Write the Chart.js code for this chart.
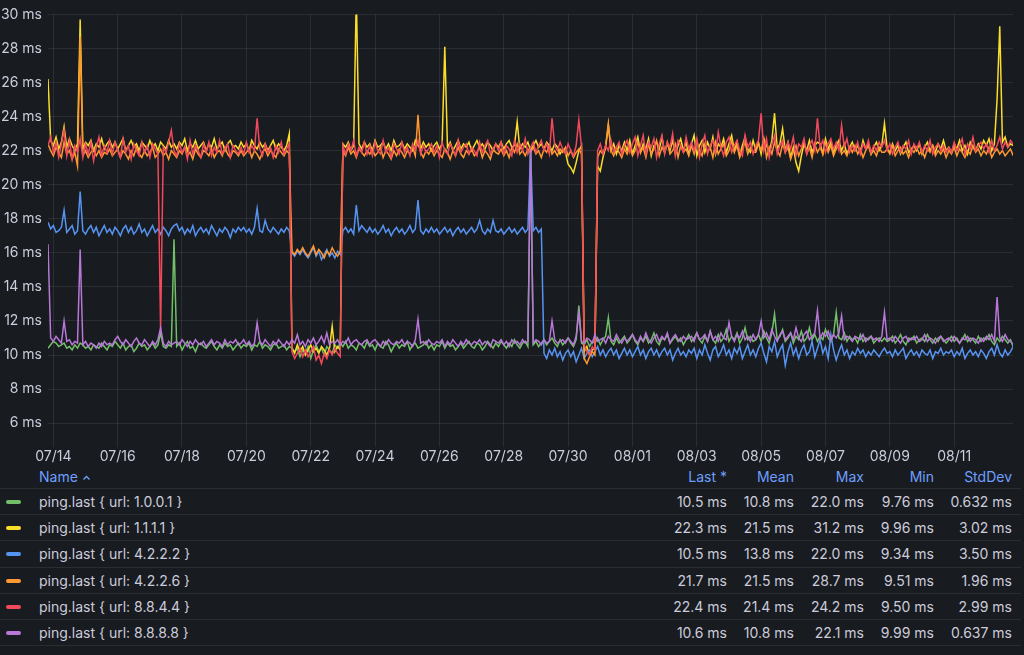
<!DOCTYPE html>
<html>
<head>
<meta charset="utf-8">
<script src="https://cdn.jsdelivr.net/npm/chart.js@4.4.0/dist/chart.umd.min.js"></script>
<style>
  html, body { margin: 0; padding: 0; background: #181b1f; }
  body { width: 1024px; height: 655px; overflow: hidden; font-family: Inter, sans-serif; color: #ccccdc; }
  #wrap { position: relative; width: 1024px; height: 465px; }
  #legend { position: relative; width: 1021px; font-size: 14px; }
  .row { position: relative; height: 25.1px; line-height: 25px; border-bottom: 1px solid rgba(204, 204, 220, 0.1); }
  .head { height: 23.3px; line-height: 23px; color: #6e9fff; }
  .cell { position: absolute; top: 0; white-space: nowrap; }
  .name { position: absolute; left: 39px; top: 0; white-space: nowrap; }
  .swatch { position: absolute; left: 6px; top: 11px; width: 15px; height: 4px; border-radius: 2px; }
  .caret { display: inline-block; margin-left: 4px; vertical-align: middle; }
</style>
</head>
<body>
<div id="wrap"><canvas id="myChart"></canvas></div>
<div id="legend"></div>
<script>
// one sample every 2 hours, days counted from 07/14 00:00
var startDay = -0.165;
var stepDays = 2 / 24;

var seriesNames = ['ping.last { url: 1.0.0.1 }', 'ping.last { url: 1.1.1.1 }', 'ping.last { url: 4.2.2.2 }',
  'ping.last { url: 4.2.2.6 }', 'ping.last { url: 8.8.4.4 }', 'ping.last { url: 8.8.8.8 }'];
var seriesColors = ['#73bf69', '#fade2a', '#5794f2', '#ff9830', '#f2495c', '#b877d9'];

var ping1001 = [
  10.4,10.6,10.8,10.7,10.5,10.6,10.7,10.4,10.5,10.3,10.6,10.4,
  10.7,10.6,10.4,10.5,10.3,10.6,10.5,10.4,10.7,10.5,10.3,10.6,
  10.5,10.8,10.6,10.4,10.7,10.3,10.5,10.6,10.2,10.4,10.7,10.5,
  10.6,10.3,10.5,10.7,10.4,10.6,11.3,10.5,10.4,10.6,10.5,16.8,
  10.5,10.7,10.3,10.6,10.8,10.4,10.5,10.2,10.6,10.7,10.5,10.4,
  10.6,10.8,10.5,10.3,10.6,10.4,10.7,10.5,10.6,10.3,10.5,10.7,
  10.4,10.6,10.5,10.7,10.3,10.6,10.5,10.8,10.4,10.6,10.5,10.3,
  10.6,10.7,10.4,10.5,10.6,10.3,10.5,10.4,10.2,10.4,9.9,10.3,
  10.1,10.5,9.8,10.3,10.6,10.2,10.4,10.0,10.5,10.3,10.1,10.6,
  10.4,10.7,10.5,10.8,10.4,10.6,10.5,10.3,10.7,10.6,10.4,10.8,
  10.5,10.6,10.3,10.7,10.5,10.4,10.8,10.6,10.2,10.5,10.7,10.4,
  10.6,10.5,10.8,10.3,10.6,10.7,10.4,10.5,10.6,10.8,10.4,10.6,
  10.3,10.6,10.5,10.8,10.4,10.7,10.5,10.6,10.3,10.5,10.7,10.4,
  10.6,10.8,10.5,10.4,10.7,10.6,10.3,10.5,10.8,10.6,10.4,10.7,
  10.5,10.8,10.6,10.4,10.7,10.5,10.9,10.6,10.4,10.7,10.8,10.5,
  22.0,10.6,10.8,10.5,10.7,10.9,10.6,10.8,11.0,10.7,10.5,10.9,
  10.6,10.8,11.0,10.7,10.5,10.9,12.9,10.7,10.6,10.9,10.5,10.8,
  10.7,11.0,10.6,10.9,11.1,12.2,10.8,10.6,11.0,10.7,10.9,11.1,
  10.7,10.9,11.2,10.8,10.6,11.0,10.8,11.1,10.7,10.9,11.3,10.8,
  10.6,11.0,10.9,11.2,10.7,10.9,11.1,10.8,11.0,10.6,10.9,11.2,
  10.8,11.0,11.3,10.9,10.7,11.1,10.8,11.4,10.9,10.7,11.2,10.8,
  11.0,11.5,10.8,11.1,10.9,11.3,10.7,11.0,11.6,10.9,11.1,10.8,
  10.9,11.2,10.8,11.4,11.0,10.7,11.3,12.4,10.9,11.1,11.5,10.8,
  11.0,11.3,10.7,11.1,10.9,11.4,10.8,11.0,11.6,10.9,11.2,10.8,
  11.1,10.9,11.5,11.0,10.8,11.2,12.5,11.0,10.9,11.3,10.8,11.1,
  10.9,11.0,10.7,11.2,10.8,11.0,10.9,11.1,10.7,10.9,11.0,10.8,
  11.0,10.8,10.9,11.1,10.7,10.9,11.2,10.8,10.6,11.0,10.9,11.1,
  10.7,10.9,11.0,10.8,11.2,10.9,10.7,11.0,10.8,11.1,10.9,10.7,
  10.9,11.1,10.8,11.0,10.7,10.9,11.2,10.8,11.0,10.9,10.7,11.1,
  10.8,11.0,10.9,11.2,10.8,10.6,11.0,10.8,11.1,10.9,10.7,10.9,
  10.5
];
var ping1111 = [
  26.2,22.6,22.3,22.8,22.1,22.5,23.4,22.2,22.7,22.3,22.0,22.4,
  29.7,22.1,22.5,22.3,22.6,22.0,22.4,22.2,22.7,22.1,22.4,22.6,
  22.2,22.5,22.1,22.4,22.7,22.0,22.3,22.6,22.2,22.4,22.0,22.5,
  22.3,22.1,22.6,22.2,22.4,22.0,22.5,22.3,22.1,22.6,22.2,22.4,
  22.1,22.5,22.3,22.7,22.0,22.4,22.2,22.6,22.1,22.3,22.5,22.0,
  22.4,22.2,22.7,22.1,22.3,22.5,22.0,22.4,22.6,22.2,22.3,22.1,
  22.5,22.2,22.4,22.0,22.6,22.3,22.1,22.5,22.2,22.4,22.0,22.3,
  22.6,22.1,22.4,22.2,22.0,22.3,23.0,10.4,10.1,10.6,10.2,10.5,
  10.0,10.3,10.6,10.2,10.4,10.1,10.5,10.3,10.0,10.4,11.7,10.2,
  10.5,10.3,22.4,22.2,22.5,22.0,22.3,31.2,22.4,22.1,22.5,22.2,
  22.4,22.0,22.6,22.2,22.3,22.5,22.1,22.4,22.0,22.6,22.2,22.3,
  22.5,22.1,22.4,22.2,22.0,22.6,22.3,22.1,22.5,22.2,22.4,22.0,
  22.3,22.5,22.1,22.4,28.1,22.2,22.5,22.0,22.3,22.6,22.1,22.4,
  22.2,22.5,22.0,22.3,22.6,22.2,22.4,22.1,22.5,22.3,22.0,22.4,
  22.2,22.5,22.1,22.4,22.6,22.2,22.3,23.7,22.1,22.4,22.2,22.5,
  22.0,22.3,22.6,22.2,22.4,22.1,22.5,22.3,22.0,22.4,22.2,21.8,
  22.1,21.9,21.2,21.0,20.7,21.3,22.0,22.3,10.2,10.5,10.0,10.3,
  10.4,21.1,20.8,21.6,22.2,23.5,22.0,22.4,21.8,22.3,22.0,22.5,
  22.0,22.6,21.8,22.3,22.8,21.9,22.4,22.1,22.7,21.7,22.3,22.5,
  22.1,22.8,21.9,22.4,22.0,22.6,21.8,22.3,22.7,22.0,22.5,21.8,
  22.4,22.9,21.7,22.3,22.6,21.9,22.5,22.1,22.8,21.8,22.4,22.2,
  22.7,21.9,22.4,22.9,22.0,22.5,21.7,22.3,22.8,22.1,21.9,22.6,
  22.0,22.5,21.8,22.7,22.3,21.9,22.6,24.2,22.1,22.4,23.3,22.0,
  22.5,21.6,22.2,21.3,20.8,21.7,22.4,22.0,22.6,21.9,22.3,22.5,
  22.4,21.8,22.7,22.1,22.5,21.9,22.3,22.6,22.0,22.4,21.8,22.2,
  22.5,22.0,22.3,21.9,22.6,22.1,22.4,21.8,22.2,22.5,22.0,22.3,
  23.6,22.1,21.9,22.4,22.0,22.3,21.8,22.2,22.5,21.9,22.1,22.3,
  22.0,22.4,21.8,22.2,22.5,22.0,22.3,21.9,22.4,22.1,22.6,22.0,
  22.2,21.9,22.4,22.1,22.6,22.0,22.3,21.8,22.5,22.2,22.0,22.4,
  22.1,22.6,22.3,22.7,22.0,22.4,25.0,29.3,22.5,22.8,22.2,22.4,
  22.3
];
var ping4222 = [
  17.8,17.4,17.6,17.2,17.3,17.5,18.5,17.2,17.4,17.6,17.1,17.3,
  19.6,17.3,17.1,17.4,17.6,17.2,17.5,17.0,17.3,17.6,17.2,17.4,
  17.1,17.5,17.3,17.0,17.4,17.6,17.2,17.5,17.1,17.3,17.7,17.2,
  17.4,17.0,17.3,17.6,17.2,17.4,17.1,17.5,17.3,17.0,17.4,17.6,
  17.7,17.3,17.5,17.1,17.4,17.2,17.6,17.0,17.3,17.5,17.2,17.4,
  17.1,17.6,17.3,17.0,17.4,17.2,17.5,17.3,16.9,17.4,17.2,17.5,
  17.3,17.5,17.2,17.4,17.1,17.5,18.6,17.3,17.2,17.9,17.4,17.2,
  17.5,17.3,17.1,17.4,17.2,17.5,17.3,16.0,15.8,16.1,15.9,16.2,
  15.9,15.7,16.0,16.3,15.8,16.1,15.6,15.9,16.2,15.8,16.0,15.7,
  16.1,15.9,17.3,17.5,17.2,17.4,17.1,18.8,17.3,17.6,17.4,17.2,
  17.5,17.2,17.4,17.1,17.3,17.6,17.2,17.4,17.0,17.3,17.5,17.2,
  17.4,17.1,17.3,17.6,17.2,17.4,19.1,17.3,17.1,17.4,17.2,17.5,
  17.2,17.4,17.1,17.3,17.5,17.2,17.4,17.0,17.3,17.5,17.2,17.4,
  17.1,17.3,17.5,17.2,17.4,17.9,17.3,17.1,17.4,17.2,17.9,17.3,
  17.2,17.4,17.1,17.3,17.5,17.2,17.4,17.1,17.3,17.5,17.2,17.4,
  22.0,17.3,17.5,17.2,17.4,10.1,9.8,10.3,10.0,10.4,9.9,10.2,
  9.7,10.1,10.3,9.9,10.2,9.6,10.0,10.4,9.8,10.1,10.3,9.9,
  10.2,10.5,10.0,10.3,9.9,10.2,10.4,10.0,10.3,9.8,10.1,10.4,
  10.0,10.3,9.9,10.2,10.5,10.0,10.3,9.8,10.2,10.4,10.0,10.3,
  9.9,10.2,10.4,10.0,10.3,9.7,10.1,10.4,10.0,10.2,9.9,10.3,
  10.1,10.4,9.8,10.3,10.0,10.6,10.1,9.7,10.3,10.5,9.9,10.2,
  10.6,10.0,10.3,9.8,10.4,10.1,10.5,9.8,10.2,10.6,10.0,10.3,
  9.9,10.4,10.7,10.1,9.6,10.5,10.2,10.8,9.9,10.3,10.6,9.4,
  10.2,10.7,10.0,10.4,9.8,10.3,10.6,10.0,10.2,10.8,9.9,10.4,
  10.9,10.1,10.5,9.8,11.2,10.3,9.7,10.2,10.6,10.0,10.3,9.8,
  10.2,10.0,10.4,10.1,10.3,9.9,10.2,10.0,10.3,10.1,9.9,10.2,
  10.4,10.1,10.2,9.9,10.3,10.0,10.2,10.4,9.8,10.1,10.3,10.0,
  10.2,9.9,10.3,10.1,10.0,10.3,9.8,10.2,10.1,10.4,10.0,10.2,
  10.1,10.3,9.9,10.2,10.0,10.4,9.8,10.1,10.3,10.0,10.2,9.9,
  10.3,10.1,9.8,10.2,10.4,10.0,10.6,10.1,9.9,10.3,10.0,10.2,
  10.5
];
var ping4226 = [
  22.4,22.0,21.7,22.2,21.9,21.6,22.5,21.8,22.0,21.5,21.9,21.1,
  28.7,21.7,22.0,21.6,21.9,22.1,21.7,22.0,21.6,21.9,21.8,22.1,
  21.7,21.9,22.1,21.6,22.0,21.8,21.5,22.0,21.7,22.2,21.8,21.6,
  22.0,21.7,21.9,22.2,21.6,21.8,22.1,21.7,21.9,21.5,22.0,21.8,
  21.6,22.0,21.8,22.2,21.7,21.9,21.5,22.1,21.8,21.6,22.0,21.9,
  21.7,22.1,21.6,21.9,22.0,21.7,22.2,21.8,21.6,22.0,21.9,21.7,
  22.0,21.7,21.9,22.1,21.6,22.0,21.8,21.5,21.9,22.1,21.7,22.0,
  21.8,21.6,22.1,21.9,21.7,22.0,21.8,16.1,15.9,16.2,16.0,16.3,
  16.0,15.8,16.1,16.4,15.9,16.2,16.0,15.7,16.1,15.9,16.3,16.0,
  15.8,16.1,22.0,21.7,22.2,21.8,22.0,21.6,22.1,21.9,21.7,22.0,
  21.8,22.1,21.7,21.9,22.2,21.6,22.0,21.8,21.5,22.0,21.7,22.1,
  21.9,21.6,22.0,21.8,22.2,21.7,24.1,21.9,21.6,22.0,21.8,22.1,
  21.7,22.0,21.8,21.6,22.1,21.9,21.5,22.0,21.7,22.2,21.8,21.6,
  22.0,21.8,22.1,21.7,21.9,22.2,21.6,22.0,21.8,21.5,22.1,21.9,
  21.8,22.1,21.7,22.0,21.6,22.2,21.9,22.4,21.8,22.0,21.7,22.1,
  21.9,22.2,21.8,22.0,21.6,22.1,21.9,22.3,21.8,22.0,21.7,22.1,
  21.9,22.2,21.7,22.0,21.6,21.9,22.1,21.8,9.8,9.5,9.9,10.2,
  10.0,21.6,22.0,21.8,22.3,23.6,22.0,21.7,22.2,21.9,21.6,22.1,
  21.8,22.3,21.7,22.0,22.5,21.9,22.2,21.6,22.4,21.8,22.1,22.6,
  21.7,22.2,21.9,22.5,21.8,22.0,22.4,21.6,22.3,21.9,22.1,21.7,
  22.3,21.8,22.6,22.0,21.7,22.4,21.9,22.2,21.6,22.5,21.8,22.1,
  22.4,21.7,22.0,22.6,21.9,22.3,21.6,22.1,22.5,21.8,22.2,21.9,
  21.9,22.4,22.0,22.7,21.6,22.2,21.8,22.5,22.0,21.7,22.4,21.9,
  22.2,21.5,22.0,22.3,21.7,22.1,22.5,21.8,22.2,21.6,22.4,21.9,
  22.2,21.8,22.5,21.9,22.3,21.7,22.1,22.4,21.8,22.0,21.7,22.2,
  21.9,22.3,21.8,22.1,21.6,22.0,22.3,21.8,22.0,21.7,22.2,21.9,
  21.9,22.1,21.8,22.3,21.7,22.0,22.2,21.8,22.0,21.6,22.1,21.9,
  22.2,21.8,22.0,21.6,22.1,21.9,22.3,21.7,22.0,21.8,22.1,21.6,
  22.0,21.8,22.2,21.7,22.1,21.9,21.6,22.0,21.8,22.3,21.9,22.1,
  21.7,22.0,21.8,22.2,21.6,21.9,22.1,21.8,22.0,21.7,21.9,22.1,
  21.7
];
var ping8844 = [
  22.3,22.8,21.9,22.5,21.6,22.4,23.2,21.7,22.6,21.5,22.3,21.9,
  22.7,21.6,22.4,21.8,22.5,21.4,22.2,22.8,21.7,22.3,21.9,22.6,
  21.8,22.5,22.0,21.6,22.7,21.9,22.3,21.5,22.4,22.0,21.7,22.5,
  21.9,22.3,21.6,22.4,22.1,21.8,11.5,22.2,21.9,22.5,23.2,22.0,
  21.7,22.4,21.9,22.2,21.5,22.6,21.8,22.3,22.0,21.6,22.4,21.9,
  22.5,21.7,22.2,21.9,22.6,21.8,22.1,22.4,21.6,22.3,22.0,21.8,
  22.2,21.8,22.5,21.9,22.3,22.0,23.9,22.1,21.7,22.4,21.9,22.2,
  21.6,22.3,21.9,22.5,21.8,22.1,22.4,10.2,9.8,10.1,10.4,9.9,
  10.3,9.9,10.2,10.5,9.7,10.0,9.5,10.1,9.8,10.3,10.0,10.4,
  10.1,9.9,22.3,21.8,22.4,22.0,22.6,21.7,22.2,21.9,22.5,21.8,
  22.3,21.7,22.5,22.0,21.8,22.6,21.9,22.2,21.6,22.4,22.1,21.8,
  22.5,21.9,22.2,21.7,22.4,22.0,22.6,21.8,22.3,21.9,22.1,22.4,
  21.9,22.3,21.6,22.5,22.0,21.8,22.4,22.1,21.7,22.6,21.9,22.2,
  22.4,21.8,22.2,22.0,21.7,22.5,21.9,22.3,22.6,21.8,22.1,22.4,
  22.0,22.5,21.8,22.3,22.1,21.7,22.6,21.9,22.4,22.0,22.7,21.8,
  22.2,22.5,21.9,22.3,22.6,22.0,22.4,21.8,23.9,22.3,22.0,22.5,
  22.1,21.8,22.4,22.0,21.7,22.3,23.8,22.2,10.6,10.2,10.0,10.5,
  10.3,22.0,22.4,21.8,22.3,22.0,22.6,21.9,22.2,22.5,21.8,22.3,
  22.6,21.9,22.4,22.8,21.7,22.3,22.9,21.8,22.5,22.2,22.7,21.6,
  22.4,22.9,21.8,22.5,22.2,23.0,21.7,22.6,22.3,21.9,22.8,22.1,
  22.5,22.0,22.7,21.6,22.4,22.9,21.8,22.3,22.6,21.9,23.1,22.2,
  21.7,22.5,22.8,21.9,22.3,22.6,22.0,21.7,22.9,22.2,22.5,21.8,
  22.3,22.6,24.2,22.0,22.7,21.6,22.4,22.9,21.8,22.3,22.6,21.9,
  22.5,22.1,22.8,21.7,22.4,22.2,22.7,21.8,22.3,22.6,22.0,23.9,
  22.2,22.6,21.9,22.4,22.7,22.1,22.5,22.0,23.5,22.2,22.7,21.9,
  22.3,22.0,22.5,21.8,22.4,22.1,22.6,21.9,22.3,22.0,22.5,22.2,
  22.6,22.0,22.4,21.8,22.2,22.5,21.9,22.3,22.1,22.6,21.8,22.4,
  22.1,22.5,21.9,22.3,22.0,22.6,21.8,22.2,22.4,22.0,22.3,21.9,
  22.2,21.9,22.5,22.0,22.3,22.7,21.8,22.4,22.1,22.8,22.0,22.3,
  22.5,22.1,22.4,21.9,22.6,22.0,22.3,22.8,22.1,22.5,22.2,22.6,
  22.4
];
var ping8888 = [
  16.5,11.0,10.8,11.1,10.9,10.7,12.0,10.8,10.9,10.6,10.8,10.7,
  16.2,10.6,10.8,10.5,10.7,10.6,10.4,10.7,10.5,10.8,10.6,10.7,
  10.6,10.9,11.1,10.8,10.6,10.9,10.7,10.5,10.8,11.0,10.7,10.6,
  10.9,10.7,10.5,10.8,10.6,10.9,11.6,10.7,10.5,10.8,10.6,10.7,
  10.8,10.6,10.9,10.7,10.5,10.8,10.6,10.9,10.7,10.6,10.8,10.5,
  10.7,10.9,10.6,10.8,10.7,10.5,10.9,10.6,10.8,10.7,10.9,10.6,
  10.7,10.9,10.6,10.8,10.5,10.7,11.9,10.8,10.6,10.9,10.7,10.5,
  10.8,10.6,10.9,10.7,10.5,10.8,10.6,10.9,10.7,11.2,10.6,10.8,
  10.5,10.9,10.7,11.0,10.6,10.8,11.1,10.7,11.3,10.6,10.8,10.7,
  10.9,10.6,10.8,10.7,11.0,10.6,10.8,10.9,10.7,10.6,10.8,10.9,
  10.6,10.8,10.9,10.7,10.5,10.8,10.6,10.9,10.7,10.6,10.8,10.7,
  10.9,10.6,10.8,10.7,10.5,10.9,12.1,10.7,10.8,10.6,10.9,10.7,
  10.6,10.8,10.7,10.9,10.5,10.8,10.6,10.9,10.7,10.5,10.8,10.6,
  10.9,10.7,10.6,10.8,10.7,10.9,10.6,10.8,10.7,10.5,10.9,10.8,
  10.7,10.9,10.6,10.8,10.5,10.9,10.7,10.8,10.6,10.9,10.7,10.8,
  22.1,10.7,10.9,10.8,10.6,10.9,10.7,10.8,12.0,10.9,10.7,10.8,
  10.9,10.7,11.0,10.8,10.6,11.1,12.5,10.8,10.7,11.0,10.9,10.7,
  11.2,10.8,10.9,11.0,10.7,11.1,10.9,10.8,11.2,10.9,10.7,11.0,
  10.8,11.0,11.2,10.9,10.7,11.1,10.8,11.3,10.9,10.7,11.0,11.2,
  10.8,11.1,10.9,11.3,10.7,11.0,11.2,10.9,10.8,11.1,10.9,11.0,
  11.1,10.8,11.3,10.9,11.0,11.2,10.8,11.4,10.9,11.1,10.8,11.3,
  11.0,10.9,11.9,11.1,10.8,11.2,11.0,11.4,10.9,11.1,10.8,11.2,
  10.9,11.2,12.0,11.0,11.3,10.9,11.5,11.1,10.8,11.2,11.4,10.9,
  11.1,11.3,10.9,11.6,11.0,10.8,11.2,11.4,10.9,11.1,11.3,12.6,
  11.0,11.3,11.1,11.4,10.9,11.2,11.0,11.3,12.3,10.9,11.1,11.0,
  10.8,11.1,11.0,10.9,11.2,10.8,11.0,11.1,10.9,11.0,10.8,11.1,
  12.5,10.9,11.0,10.8,11.1,10.9,10.7,11.0,11.1,10.8,11.0,10.9,
  11.1,10.8,10.9,11.2,10.8,11.0,10.9,10.7,11.0,11.1,10.8,10.9,
  11.0,10.8,11.1,10.9,10.7,11.0,10.9,11.1,10.8,11.0,10.9,10.7,
  11.0,10.8,11.1,10.9,11.2,10.8,13.4,11.0,10.8,11.2,10.9,10.8,
  10.6
];

// legend table values
var lastVals = ['10.5 ms', '22.3 ms', '10.5 ms', '21.7 ms', '22.4 ms', '10.6 ms'];
var meanVals = ['10.8 ms', '21.5 ms', '13.8 ms', '21.5 ms', '21.4 ms', '10.8 ms'];
var maxVals = ['22.0 ms', '31.2 ms', '22.0 ms', '28.7 ms', '24.2 ms', '22.1 ms'];
var minVals = ['9.76 ms', '9.96 ms', '9.34 ms', '9.51 ms', '9.50 ms', '9.99 ms'];
var stdVals = ['0.632 ms', '3.02 ms', '3.50 ms', '1.96 ms', '2.99 ms', '0.637 ms'];

var xTickDays = [0, 2, 4, 6, 8, 10, 12, 14, 16, 18, 20, 22, 24, 26, 28];
var yTicks = [6, 8, 10, 12, 14, 16, 18, 20, 22, 24, 26, 28, 30];

var seriesData = [ping1001, ping1111, ping4222, ping4226, ping8844, ping8888];
var times = ping1001.map(function(_, i) { return startDay + i * stepDays; });

var textColor = '#ccccdc';
var gridColor = 'rgba(204, 204, 220, 0.1)';

function dayLabel(d) {
  var dt = new Date(2024, 6, 14 + Math.round(d));
  var m = dt.getMonth() + 1, day = dt.getDate();
  return (m < 10 ? '0' : '') + m + '/' + (day < 10 ? '0' : '') + day;
}

Chart.defaults.font.family = 'Inter, sans-serif';
Chart.defaults.font.size = 14;
Chart.defaults.color = textColor;

var ctx = document.getElementById('myChart').getContext('2d');
new Chart(ctx, {
  type: 'line',
  data: {
    labels: times,
    datasets: seriesData.map(function(vals, i) {
      return {
        label: seriesNames[i],
        data: vals,
        borderColor: seriesColors[i],
        borderWidth: 1.5,
        pointRadius: 0,
        tension: 0,
        order: 5 - i
      };
    })
  },
  options: {
    responsive: true,
    maintainAspectRatio: false,
    animation: false,
    layout: { padding: { top: 12, right: 11, left: 0, bottom: 0 } },
    plugins: { legend: { display: false }, tooltip: { enabled: false } },
    scales: {
      x: {
        type: 'linear',
        min: -0.165,
        max: 29.83,
        afterBuildTicks: function(s) { s.ticks = xTickDays.map(function(v) { return { value: v }; }); },
        afterFit: function(s) { s.height = 18; },
        grid: { color: gridColor, drawTicks: false },
        border: { display: false },
        ticks: { color: textColor, padding: 1, maxRotation: 0, autoSkip: false,
          callback: function(v) { return dayLabel(v); } }
      },
      y: {
        min: 4.6,
        max: 30,
        afterBuildTicks: function(s) { s.ticks = yTicks.map(function(v) { return { value: v }; }); },
        afterFit: function(s) { s.width = 48; },
        grid: { color: gridColor, drawTicks: false },
        border: { display: false },
        ticks: { color: textColor, padding: 6,
          callback: function(v) { return v + ' ms'; } }
      }
    }
  }
});

// table legend under the plot
var legend = document.getElementById('legend');
var colRight = [294, 227, 157, 87, 9];
var head = document.createElement('div');
head.className = 'row head';
head.innerHTML = '<span class="name">Name<svg class="caret" width="9" height="6" viewBox="0 0 9 6">' +
  '<polyline points="1.5,4.5 4.5,1.5 7.5,4.5" fill="none" stroke="#6e9fff" stroke-width="1.4"/></svg></span>';
['Last *', 'Mean', 'Max', 'Min', 'StdDev'].forEach(function(t, c) {
  var s = document.createElement('span');
  s.className = 'cell';
  s.style.right = colRight[c] + 'px';
  s.textContent = t;
  head.appendChild(s);
});
legend.appendChild(head);

seriesNames.forEach(function(name, i) {
  var row = document.createElement('div');
  row.className = 'row';
  var sw = document.createElement('span');
  sw.className = 'swatch';
  sw.style.background = seriesColors[i];
  row.appendChild(sw);
  var n = document.createElement('span');
  n.className = 'name';
  n.textContent = name;
  row.appendChild(n);
  [lastVals, meanVals, maxVals, minVals, stdVals].forEach(function(col, c) {
    var s = document.createElement('span');
    s.className = 'cell';
    s.style.right = colRight[c] + 'px';
    s.textContent = col[i];
    row.appendChild(s);
  });
  legend.appendChild(row);
});
</script>
</body>
</html>
